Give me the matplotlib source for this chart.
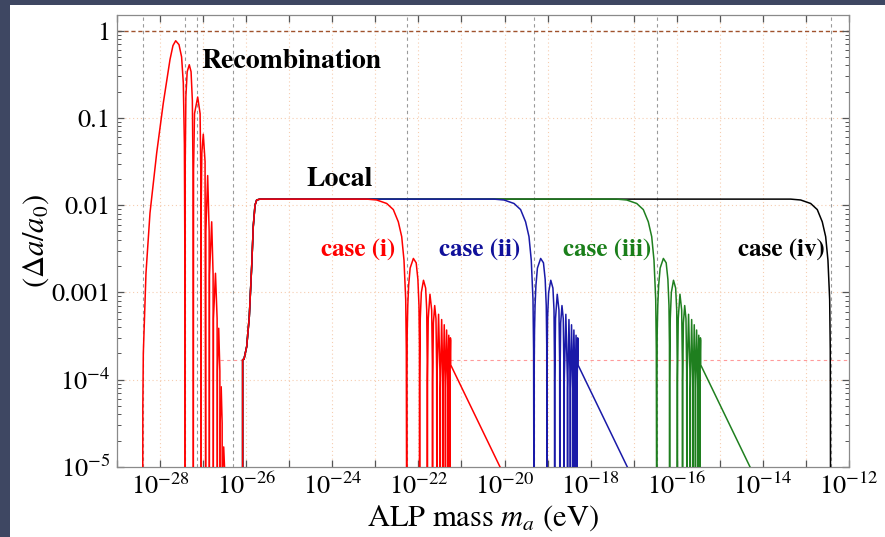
import numpy as np
import matplotlib
matplotlib.use("Agg")
import matplotlib.pyplot as plt
from matplotlib.patches import Rectangle
from matplotlib.ticker import FixedLocator, FuncFormatter, LogLocator, NullLocator, NullFormatter

plt.rcParams['font.family'] = 'STIXGeneral'
plt.rcParams['mathtext.fontset'] = 'stix'

# everything below is log10(m_a / eV) against log10(delta a / a0)

# recombination curve, one list of points per lobe
recomb_lobes = [
    [(-28.403, -6), (-28.400, -4.3), (-28.389, -3.70), (-28.327, -2.78), (-28.234, -2.09),
     (-28.078, -1.40), (-27.925, -0.83), (-27.769, -0.33), (-27.700, -0.17), (-27.637, -0.115),
     (-27.560, -0.16), (-27.500, -0.30), (-27.460, -0.60), (-27.435, -1.30), (-27.425, -2.50),
     (-27.421, -6)],
    [(-27.421, -6), (-27.415, -1.5), (-27.400, -0.75), (-27.370, -0.47), (-27.321, -0.39),
     (-27.280, -0.47), (-27.250, -0.80), (-27.235, -1.60), (-27.228, -6)],
    [(-27.228, -6), (-27.222, -1.6), (-27.200, -0.95), (-27.126, -0.76), (-27.070, -0.95),
     (-27.055, -1.60), (-27.049, -6)],
    [(-27.049, -6), (-27.044, -2.0), (-27.030, -1.40), (-26.996, -1.185), (-26.955, -1.50),
     (-26.940, -6)],
    [(-26.940, -6), (-26.936, -2.3), (-26.894, -1.66), (-26.860, -2.30), (-26.856, -6)],
    [(-26.856, -6), (-26.852, -2.8), (-26.801, -2.19), (-26.768, -2.80), (-26.764, -6)],
    [(-26.764, -6), (-26.760, -3.3), (-26.713, -2.78), (-26.675, -3.30), (-26.671, -6)],
    [(-26.671, -6), (-26.668, -3.9), (-26.638, -3.41), (-26.611, -3.90), (-26.608, -6)],
    [(-26.608, -6), (-26.605, -4.5), (-26.580, -4.08), (-26.558, -4.50), (-26.555, -6)],
    [(-26.555, -6), (-26.552, -5.1), (-26.522, -4.77), (-26.495, -5.10), (-26.492, -6)],
]

# low-mass turn-on shared by the four local cases
rise_logm = [-26.082, -26.082, -26.051, -25.988, -25.928, -25.872, -25.835, -25.795, -25.756, -25.679]
rise_logv = [-6.0, -3.77, -3.765, -3.62, -3.28, -2.70, -2.24, -2.00, -1.94, -1.93]

# roll-off into the first zero, offsets in decades from that zero
fall_dlogm = [-0.929, -0.697, -0.464, -0.311, -0.195, -0.116, -0.063, -0.023, -0.009, 0.0]
fall_logv = [-1.93, -1.94, -1.98, -2.05, -2.19, -2.36, -2.63, -3.08, -3.66, -6.0]

# oscillating part after the first zero
osc_dlogm = [0.004, 0.012, 0.025, 0.045, 0.080, 0.155, 0.220, 0.260, 0.285, 0.296, 0.300,
             0.303, 0.315, 0.340, 0.390, 0.440, 0.465, 0.476, 0.480,
             0.484, 0.500, 0.540, 0.580, 0.596, 0.600,
             0.604, 0.620, 0.650, 0.680, 0.696, 0.700,
             0.704, 0.740, 0.776, 0.780,
             0.783, 0.812, 0.842, 0.845,
             0.847, 0.872, 0.898, 0.900,
             0.902, 0.927, 0.953, 0.955,
             0.957, 0.977, 0.998, 1.000,
             1.002, 1.015, 1.022]
osc_logv = [-3.95, -3.45, -3.15, -2.92, -2.72, -2.61, -2.66, -2.85, -3.15, -3.60, -6.0,
            -4.0, -3.30, -3.00, -2.86, -2.95, -3.20, -3.80, -6.0,
            -4.0, -3.30, -3.02, -3.20, -3.80, -6.0,
            -4.0, -3.35, -3.15, -3.30, -3.90, -6.0,
            -4.0, -3.25, -4.00, -6.0,
            -4.1, -3.31, -4.10, -6.0,
            -4.1, -3.37, -4.10, -6.0,
            -4.1, -3.43, -4.10, -6.0,
            -4.1, -3.49, -4.10, -6.0,
            -4.1, -3.52, -3.55]

# power-law tail past the cut
tail_dlogm = [1.022, 2.168]
tail_logv = [-3.83, -5.0]

case_names = ['case (i)', 'case (ii)', 'case (iii)', 'case (iv)']
case_zero_logm = [-22.272, -19.316, -16.466, -12.426]
case_has_osc = [True, True, True, False]
case_colors = ['#ff0000', '#1a1aa8', '#1f7f1f', '#000000']
case_text_colors = ['#ff0000', '#10109a', '#1a7f1a', '#000000']
case_text_logm = [-23.40, -20.57, -17.62, -13.58]

# reference lines
ref_vlines_logm = [-28.403, -27.421, -27.149, -26.313, -22.257, -19.316, -16.466, -12.426]
threshold_logv = -3.77
threshold_spans = [(-26.608, -26.082), (-21.267, -12.0)]

fig = plt.figure(figsize=(8.85, 5.37), dpi=100)
fig.patch.set_facecolor('white')
# dark frame along the top and left edge
fig.patches.append(Rectangle((0, 0), 10 / 885, 1, transform=fig.transFigure,
                             facecolor='#3e4762', edgecolor='none', zorder=-10))
fig.patches.append(Rectangle((0, 1 - 5 / 537), 1, 5 / 537, transform=fig.transFigure,
                             facecolor='#3e4762', edgecolor='none', zorder=-10))

ax = fig.add_axes((117 / 885, 70 / 537, 732 / 885, 452 / 537))
ax.set_xscale('log')
ax.set_yscale('log')
ax.set_xlim(1e-29, 1e-12)
ax.set_ylim(1e-5, 10 ** 0.18)

# decade grid
for k in range(-28, -12):
    ax.axvline(10.0 ** k, color='#f6cdb0', lw=0.8, ls=(0, (1, 2.5)), zorder=0)
for k in range(-4, 0):
    ax.axhline(10.0 ** k, color='#f6cdb0', lw=0.8, ls=(0, (1, 2.5)), zorder=0)

for lm in ref_vlines_logm:
    ax.axvline(10 ** lm, color='#9a9a9a', lw=0.8, ls=(0, (3, 3)), zorder=1)
ax.axhline(1.0, color='#a0522d', lw=1.0, ls=(0, (3, 2)), zorder=1)
for a, b in threshold_spans:
    ax.plot([10 ** a, 10 ** b], [10 ** threshold_logv] * 2, color='#ff9a9a',
            lw=0.8, ls=(0, (3, 3)), zorder=1)

# local cases, drawn so that case (i) sits on top of the shared plateau
for i in reversed(range(len(case_names))):
    z = case_zero_logm[i]
    lm = list(rise_logm) + [z + d for d in fall_dlogm]
    lv = list(rise_logv) + list(fall_logv)
    if case_has_osc[i]:
        lm += [z + d for d in osc_dlogm] + [z + d for d in tail_dlogm]
        lv += list(osc_logv) + list(tail_logv)
    ax.plot(10.0 ** np.array(lm), 10.0 ** np.array(lv), color=case_colors[i],
            lw=1.1, zorder=3 + (3 - i))
    ax.text(10 ** case_text_logm[i], 10 ** -2.511, case_names[i], color=case_text_colors[i],
            fontsize=18, fontweight='bold', ha='center', va='center')

for lobe in recomb_lobes:
    pts = np.array(lobe)
    ax.plot(10.0 ** pts[:, 0], 10.0 ** pts[:, 1], color='#ff0000', lw=1.1, zorder=8)

ax.text(10 ** -27.04, 10 ** -0.356, 'Recombination', fontsize=20, fontweight='bold',
        ha='left', va='center')
ax.text(10 ** -23.82, 10 ** -1.709, 'Local', fontsize=20, fontweight='bold',
        ha='center', va='center')

# ticks
ax.xaxis.set_major_locator(FixedLocator([10.0 ** k for k in range(-29, -11)]))
ax.xaxis.set_major_formatter(FuncFormatter(
    lambda v, p: r'$10^{%d}$' % round(np.log10(v)) if round(np.log10(v)) % 2 == 0 else ''))
ax.xaxis.set_minor_locator(NullLocator())
ytick_labels = {0: '1', -1: '0.1', -2: '0.01', -3: '0.001', -4: r'$10^{-4}$', -5: r'$10^{-5}$'}
ax.yaxis.set_major_locator(FixedLocator([10.0 ** k for k in range(-5, 1)]))
ax.yaxis.set_major_formatter(FuncFormatter(lambda v, p: ytick_labels[round(np.log10(v))]))
ax.yaxis.set_minor_locator(LogLocator(base=10, subs=np.arange(2, 10)))
ax.yaxis.set_minor_formatter(NullFormatter())
ax.tick_params(which='both', direction='in', top=True, right=True, color='#555555')
ax.tick_params(which='major', length=5, width=0.9, labelsize=19, pad=5)
ax.tick_params(which='minor', length=3, width=0.7)
for s in ax.spines.values():
    s.set_color('#8a8a8a')
    s.set_linewidth(0.9)

ax.set_xlabel(r'ALP mass $m_a$ (eV)', fontsize=22, labelpad=2)
ax.set_ylabel(r'$(\Delta a/a_0)$', fontsize=22, labelpad=0)

fig.savefig('out.png', dpi=100)
